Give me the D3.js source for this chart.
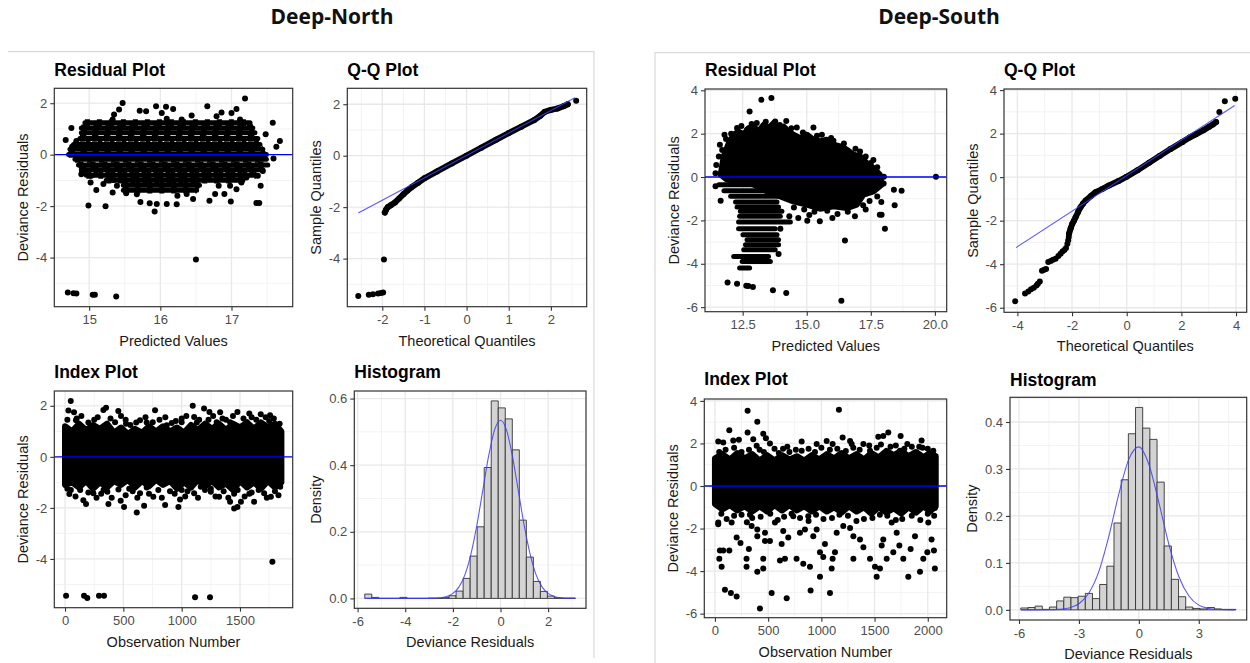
<!DOCTYPE html>
<html>
<head>
<meta charset="utf-8">
<script src="https://cdn.jsdelivr.net/npm/d3@7"></script>
<style>
  body { margin: 0; background: #fff; }
  svg { display: block; }
</style>
</head>
<body>
<svg id="chart" width="1250" height="663"></svg>
<script>
// ---------- données ----------

// Deep-North : residual plot (lignes de points [y, x0, x1] + points isolés [x, y])
const nResRows = [
  [1.24, 14.94, 17.26], [1.04, 14.89, 17.30], [0.85, 14.89, 17.33], [0.63, 14.87, 17.37],
  [0.40, 14.78, 17.40], [0.21, 14.73, 17.44], [0.01, 14.71, 17.49], [-0.18, 14.80, 17.49],
  [-0.40, 14.85, 17.51], [-0.59, 14.89, 17.44], [-0.80, 14.96, 17.35], [-0.99, 15.24, 17.16],
  [-1.19, 15.48, 16.55], [-1.38, 15.48, 16.51]
];
const nResPts = [
  [15.47, 2.01], [15.42, 1.76], [15.35, 1.56], [15.33, 1.37], [15.71, 1.71], [15.80, 1.69],
  [15.94, 1.88], [16.08, 1.86], [16.18, 1.78], [16.02, 1.62], [16.09, 1.40], [16.30, 1.37],
  [16.44, 1.52], [16.66, 1.88], [16.79, 1.49], [16.86, 1.64], [17.00, 1.62], [17.07, 1.78],
  [17.19, 2.18], [17.12, 1.37], [17.26, 1.11], [17.35, 0.59], [17.48, 0.79], [17.58, 1.24],
  [17.68, 0.53], [17.63, 0.31], [17.59, -0.15], [17.44, -0.63], [17.37, -0.82], [17.41, -1.21],
  [17.35, -1.88], [17.39, -1.88], [14.67, 0.57], [14.75, 1.04], [14.82, 0.53], [14.76, 0.31],
  [14.90, -0.69], [14.89, -0.76], [15.03, -0.82], [15.02, -1.08], [15.10, -1.37], [14.99, -1.98],
  [15.23, -2.01], [15.33, -1.47], [15.20, -1.14], [15.52, -1.50], [15.67, -1.54], [15.72, -1.84],
  [15.85, -1.89], [15.95, -1.92], [15.92, -2.21], [16.09, -1.92], [16.23, -1.93], [16.24, -1.60],
  [16.37, -1.53], [16.46, -1.72], [16.69, -1.79], [16.77, -1.53], [16.90, -1.53], [16.99, -1.82],
  [17.07, -1.34], [16.98, -1.21], [16.82, -1.21], [17.14, -1.08], [17.21, -0.89], [15.39, -1.21],
  [15.34, -0.98], [16.50, -4.08], [14.70, -5.36], [14.78, -5.39], [14.82, -5.40], [15.05, -5.45],
  [15.08, -5.45], [15.38, -5.51]
];

// Deep-North : Q-Q plot
const nQQBody = [
  [-1.94, -2.21], [-1.91, -2.10], [-1.87, -2.00], [-1.80, -1.93], [-1.70, -1.82], [-1.60, -1.66],
  [-1.50, -1.50], [-1.40, -1.35], [-1.30, -1.22], [-1.15, -1.05], [-1.00, -0.88], [-0.70, -0.61],
  [-0.35, -0.30], [0.00, 0.00], [0.35, 0.31], [0.70, 0.62], [1.00, 0.88], [1.30, 1.13],
  [1.60, 1.38], [1.75, 1.55], [1.85, 1.70], [2.00, 1.78], [2.15, 1.83], [2.30, 1.92], [2.40, 2.00]
];
const nQQTail = [
  [-2.57, -5.45], [-2.32, -5.41], [-2.22, -5.39], [-2.10, -5.36], [-2.03, -5.34], [-1.98, -5.32],
  [-1.96, -4.04], [2.60, 2.14]
];
const nQQLine = [[-2.57, -2.23], [2.57, 2.25]];

// Deep-North : index plot (zone dense au bord irrégulier + points isolés)
const nIdxCoreTop = [
  [0, 1.2], [60, 1.0], [120, 1.3], [180, 1.05], [240, 1.25], [300, 1.1], [360, 1.3], [420, 0.95],
  [480, 1.15], [540, 0.9], [600, 1.1], [660, 0.95], [720, 1.2], [780, 1.0], [840, 1.2], [900, 1.0],
  [960, 1.15], [1020, 0.95], [1080, 1.25], [1140, 1.05], [1200, 1.3], [1260, 1.1], [1320, 1.3],
  [1380, 1.05], [1440, 1.3], [1500, 1.15], [1560, 1.35], [1620, 1.1], [1680, 1.35], [1740, 1.15],
  [1800, 1.3], [1855, 1.0]
];
const nIdxCoreBottom = [
  [1855, -1.0], [1800, -1.2], [1740, -0.95], [1680, -1.25], [1620, -1.0], [1560, -1.2], [1500, -0.95],
  [1440, -1.3], [1380, -1.05], [1320, -1.2], [1260, -0.95], [1200, -1.15], [1140, -0.9], [1080, -1.2],
  [1020, -1.0], [960, -1.25], [900, -0.95], [840, -1.1], [780, -0.9], [720, -1.15], [660, -0.95],
  [600, -1.2], [540, -0.9], [480, -1.1], [420, -0.95], [360, -1.2], [300, -1.0], [240, -1.25],
  [180, -0.95], [120, -1.2], [60, -1.0], [0, -1.1]
];
const nIdxPts = [
  [49, 2.19], [29, 1.82], [77, 1.75], [94, 1.43], [329, 1.84], [352, 1.92], [429, 1.36], [457, 1.80],
  [523, 1.30], [643, 1.43], [772, 1.83], [752, 1.36], [872, 1.24], [915, 1.33], [1000, 1.36],
  [1095, 2.00], [1107, 1.56], [1192, 1.89], [1238, 1.76], [1300, 1.36], [1415, 1.36], [1478, 1.76],
  [1558, 1.36], [1678, 1.67], [1758, 1.63], [1815, 1.11], [1700, 1.24],
  [100, 1.5], [250, 1.45], [520, 1.45], [700, 1.35], [1000, 1.5], [1150, 1.45], [1350, 1.5],
  [1600, 1.55], [1750, 1.4],
  [20, 1.45], [140, 1.6], [200, 1.35], [280, 1.55], [390, 1.5], [480, 1.6], [560, 1.25], [610, 1.35],
  [690, 1.55], [810, 1.45], [860, 1.55], [950, 1.4], [1040, 1.6], [1130, 1.35], [1230, 1.45],
  [1270, 1.6], [1330, 1.75], [1380, 1.45], [1440, 1.6], [1530, 1.5], [1580, 1.7], [1640, 1.45],
  [1720, 1.55], [1790, 1.5], [1840, 1.3],
  [37, -1.46], [157, -1.70], [180, -1.85], [243, -1.43], [363, -1.37], [372, -1.85], [458, -1.28],
  [477, -1.72], [506, -1.96], [643, -1.43], [678, -1.92], [615, -2.18], [757, -1.56], [858, -1.89],
  [986, -1.67], [972, -1.96], [1000, -1.30], [1107, -1.43], [1164, -1.17], [1250, -1.37],
  [1321, -1.56], [1415, -1.76], [1450, -2.02], [1478, -1.96], [1508, -1.76], [1621, -1.76],
  [1707, -1.43], [1765, -1.56], [1845, -1.17],
  [50, -1.3], [200, -1.4], [330, -1.3], [550, -1.25], [700, -1.2], [900, -1.35], [1050, -1.35],
  [1250, -1.25], [1450, -1.45], [1600, -1.4], [1800, -1.35],
  [20, -1.25], [90, -1.55], [130, -1.3], [270, -1.6], [310, -1.45], [400, -1.6], [520, -1.5],
  [580, -1.35], [620, -1.6], [720, -1.45], [800, -1.3], [830, -1.6], [940, -1.45], [1030, -1.55],
  [1080, -1.2], [1140, -1.6], [1200, -1.3], [1290, -1.55], [1360, -1.35], [1400, -1.6], [1480, -1.3],
  [1540, -1.55], [1580, -1.45], [1660, -1.3], [1730, -1.6], [1830, -1.5],
  [9, -5.44], [163, -5.44], [191, -5.53], [291, -5.44], [334, -5.44], [1115, -5.50], [1243, -5.50],
  [1778, -4.11]
];

// Deep-North : histogramme (30 classes) + courbe normale
const nHistStart = -5.7;
const nHistWidth = 0.295;
const nHistDensity = [
  0.013, 0.003, 0, 0, 0, 0.003, 0, 0, 0, 0.001, 0.001, 0.003, 0.008, 0.022, 0.060,
  0.127, 0.215, 0.393, 0.593, 0.572, 0.539, 0.446, 0.235, 0.124, 0.051, 0.021, 0.007, 0.002, 0.001, 0.001
];
const nCurve = [
  [-5.7, 0], [-3, 0], [-2.5, 0.002], [-2.25, 0.006], [-2, 0.015], [-1.75, 0.034], [-1.5, 0.07],
  [-1.25, 0.131], [-1, 0.217], [-0.75, 0.322], [-0.5, 0.427], [-0.25, 0.506], [0, 0.535],
  [0.25, 0.506], [0.5, 0.427], [0.75, 0.322], [1, 0.217], [1.25, 0.131], [1.5, 0.07],
  [1.75, 0.034], [2, 0.015], [2.25, 0.006], [2.5, 0.002], [3.1, 0]
];

// Deep-South : residual plot (zone dense, bandes, points isolés)
const sResCore = [
  [11.76, 0.95], [11.96, 1.57], [12.15, 1.95], [12.34, 2.1], [12.54, 1.95], [12.73, 2.26],
  [12.93, 2.33], [13.12, 2.1], [13.32, 2.41], [13.51, 2.26], [13.71, 2.49], [13.9, 2.18],
  [14.1, 2.33], [14.29, 2.1], [14.48, 1.95], [14.74, 1.79], [15.0, 1.95], [15.26, 1.72],
  [15.52, 1.64], [15.78, 1.72], [16.04, 1.49], [16.3, 1.41], [16.56, 1.26], [16.82, 1.03],
  [17.08, 0.95], [17.34, 0.64], [17.6, 0.41], [17.85, 0.11], [17.92, -0.35], [17.6, -0.66],
  [17.21, -0.81], [16.95, -1.27], [16.56, -1.43], [16.04, -1.35], [15.52, -1.46], [15.0, -1.27],
  [14.48, -1.12], [13.97, -0.89], [13.45, -0.66], [12.93, -0.35], [12.41, -0.2], [11.89, -0.12],
  [11.64, 0.11]
];
const sResRows = [
  [-0.35, 11.57, 14.10], [-0.63, 11.77, 13.97], [-0.89, 12.03, 13.84], [-1.15, 12.22, 13.84],
  [-1.38, 12.28, 13.90], [-1.58, 12.41, 14.03], [-1.81, 12.38, 13.97], [-2.07, 12.34, 14.36],
  [-2.38, 12.34, 13.77], [-2.66, 12.51, 13.84], [-2.89, 12.67, 13.90], [-3.12, 12.61, 13.90],
  [-3.35, 12.54, 13.77], [-3.66, 12.15, 13.51], [-3.89, 12.48, 13.58], [-4.20, 12.38, 12.77]
];
const sResPts = [
  [13.23, 3.56], [13.62, 3.64], [12.77, 3.02], [11.79, 1.95], [11.61, 1.49], [11.57, 0.95],
  [12.28, 2.26], [12.67, 2.18], [13.05, 2.49], [13.77, 2.56], [14.20, 2.59], [14.61, 2.28],
  [15.26, 2.28], [15.59, 1.95], [14.98, 1.95], [16.04, 1.67], [16.46, 1.33], [17.08, 1.18],
  [17.60, 0.79], [18.01, 0.01], [20.04, 0.01], [18.40, -0.59], [18.70, -0.63], [18.43, -1.30],
  [17.91, -1.15], [17.85, -1.74], [17.92, -1.74], [18.05, -2.38], [16.88, -1.81], [16.49, -2.93],
  [16.35, -5.70], [16.00, -1.89], [15.51, -2.04], [15.02, -2.01], [14.67, -1.89], [14.32, -1.81],
  [13.97, -2.38], [13.90, -3.55], [11.91, -4.86], [12.28, -4.92], [12.64, -5.01], [12.72, -5.03],
  [12.90, -5.07], [13.68, -5.22], [14.20, -5.35], [11.64, -1.09], [11.44, 0.18], [11.47, 0.56],
  [11.44, -0.43], [17.30, -1.50], [17.20, -1.30], [16.60, -1.60], [16.20, -1.70], [15.80, -1.55],
  [15.30, -1.60], [14.90, -1.50], [14.50, -1.40], [17.40, -0.50], [17.70, 0.30], [15.10, -1.75],
  [11.70, 1.25], [11.85, 1.75], [12.05, 2.0], [12.45, 2.35], [12.85, 2.45], [13.4, 2.55],
  [13.95, 2.4], [14.4, 2.25], [14.85, 2.05], [15.4, 1.9], [15.95, 1.8], [16.45, 1.55], [16.9, 1.3],
  [17.3, 0.95], [17.5, 0.65], [17.75, 0.45], [18.0, -0.3], [17.75, -0.9], [17.45, -1.1]
];

// Deep-South : Q-Q plot
const sQQBody = [
  [-2.11, -2.60], [-2.05, -2.35], [-1.99, -2.14], [-1.93, -2.00], [-1.87, -1.84], [-1.78, -1.60],
  [-1.69, -1.38], [-1.60, -1.22], [-1.50, -1.07], [-1.30, -0.86], [-1.14, -0.69], [-0.90, -0.55],
  [-0.65, -0.38], [-0.30, -0.18], [0.00, 0.02], [0.40, 0.32], [0.82, 0.66], [1.20, 0.97],
  [1.60, 1.29], [2.04, 1.62], [2.30, 1.82], [2.53, 1.97], [2.80, 2.15], [3.02, 2.32],
  [3.15, 2.42], [3.27, 2.53]
];
const sQQTail = [
  [-4.08, -5.70], [-3.72, -5.35], [-3.60, -5.25], [-3.50, -5.15], [-3.40, -5.08], [-3.30, -4.98],
  [-3.25, -4.90], [-3.18, -4.80], [-3.10, -4.30], [-3.02, -4.25], [-2.95, -4.22], [-2.87, -3.90],
  [-2.78, -3.85], [-2.70, -3.80], [-2.60, -3.75], [-2.50, -3.62], [-2.42, -3.52], [-2.35, -3.42],
  [-2.28, -3.35], [-2.22, -3.25], [-2.17, -3.06], [-2.14, -2.90], [-2.12, -2.75],
  [3.39, 2.99], [3.59, 3.49], [3.97, 3.60]
];
const sQQLine = [[-4.05, -3.24], [3.95, 3.29]];

// Deep-South : index plot
const sIdxCoreTop = [
  [0, 1.3], [70, 1.5], [140, 1.25], [210, 1.55], [280, 1.3], [350, 1.5], [420, 1.2], [490, 1.45],
  [560, 1.2], [630, 1.45], [700, 1.25], [770, 1.4], [840, 1.2], [910, 1.45], [980, 1.25], [1050, 1.5],
  [1120, 1.3], [1190, 1.55], [1260, 1.3], [1330, 1.5], [1400, 1.25], [1470, 1.55], [1540, 1.35],
  [1610, 1.65], [1680, 1.45], [1750, 1.65], [1820, 1.4], [1890, 1.6], [1960, 1.35], [2020, 1.55],
  [2075, 1.4]
];
const sIdxCoreBottom = [
  [2075, -0.95], [2020, -1.2], [1960, -0.95], [1890, -1.25], [1820, -1.0], [1750, -1.3], [1680, -1.05],
  [1610, -1.25], [1540, -1.0], [1470, -1.3], [1400, -1.0], [1330, -1.2], [1260, -0.95], [1190, -1.25],
  [1120, -1.0], [1050, -1.2], [980, -0.95], [910, -1.2], [840, -0.95], [770, -1.15], [700, -0.9],
  [630, -1.15], [560, -0.9], [490, -1.2], [420, -0.95], [350, -1.2], [280, -0.95], [210, -1.15],
  [140, -0.9], [70, -1.1], [0, -0.85]
];
const sIdxPts = [
  [307, 3.54], [1165, 3.58], [398, 3.02], [135, 2.62], [307, 2.51], [454, 2.46], [479, 2.25],
  [31, 2.09], [78, 2.05], [172, 2.14], [225, 2.18], [360, 2.20], [392, 1.89], [517, 2.00],
  [680, 1.85], [815, 2.09], [956, 1.97], [1050, 2.12], [1106, 1.97], [1200, 2.28], [1270, 2.12],
  [1285, 1.97], [1395, 1.97], [1535, 2.31], [1582, 2.35], [1629, 2.51], [1745, 2.35], [1808, 1.97],
  [1942, 2.14], [1951, 1.80], [2052, 1.66], [1895, 1.51], [1739, 1.66], [1457, 1.66], [815, 1.66],
  [100, 1.7], [250, 1.6], [420, 1.7], [560, 1.75], [700, 1.6], [880, 1.75], [1000, 1.8], [1150, 1.75],
  [1300, 1.8], [1450, 1.9], [1700, 1.9], [1850, 1.85], [2000, 1.75],
  [40, 1.6], [180, 1.8], [320, 1.7], [460, 1.6], [600, 1.55], [640, 1.75], [760, 1.7], [940, 1.6],
  [1080, 1.7], [1230, 1.65], [1360, 1.7], [1520, 1.8], [1560, 1.95], [1650, 1.85], [1780, 1.75],
  [1920, 1.85], [2040, 1.45],
  [60, -1.3], [180, -1.4], [350, -1.5], [520, -1.3], [650, -1.45], [800, -1.5], [950, -1.35],
  [1100, -1.5], [1250, -1.4], [1400, -1.55], [1550, -1.35], [1700, -1.6], [1850, -1.4], [2000, -1.3],
  [110, -1.55], [250, -1.35], [300, -1.7], [430, -1.45], [590, -1.6], [720, -1.3], [880, -1.65],
  [1020, -1.55], [1170, -1.35], [1330, -1.65], [1480, -1.5], [1620, -1.4], [1760, -1.55],
  [1930, -1.6], [2060, -1.4],
  [31, -1.72], [31, -1.80], [47, -3.03], [41, -3.42], [63, -3.80], [78, -3.03], [135, -3.03],
  [94, -4.88], [150, -5.03], [204, -5.19], [204, -2.42], [157, -1.72], [240, -2.68], [297, -3.42],
  [297, -3.80], [319, -2.96], [345, -1.88], [329, -1.35], [423, -5.76], [398, -4.03], [454, -3.42],
  [454, -3.88], [470, -2.20], [470, -2.58], [398, -2.05], [398, -2.36], [533, -5.03], [517, -2.58],
  [564, -1.72], [627, -2.73], [642, -2.11], [658, -3.42], [611, -3.50], [674, -5.27], [689, -2.42],
  [736, -1.42], [767, -3.42], [799, -2.20], [830, -3.65], [846, -2.05], [877, -1.42], [893, -3.80],
  [899, -4.91], [924, -2.36], [956, -2.05], [987, -3.11], [987, -4.26], [1018, -3.34], [1034, -2.73],
  [1081, -5.03], [1097, -3.88], [1106, -3.42], [1128, -3.11], [1144, -2.20], [1206, -1.88],
  [1270, -1.97], [1301, -3.42], [1301, -2.36], [1363, -2.52], [1395, -2.88], [1457, -3.42],
  [1504, -3.80], [1520, -4.26], [1551, -3.88], [1567, -2.80], [1582, -2.52], [1614, -3.42],
  [1661, -1.72], [1676, -3.11], [1708, -2.20], [1733, -2.80], [1770, -3.42], [1817, -4.26],
  [1839, -2.96], [1880, -2.36], [1927, -4.03], [1958, -3.42], [1996, -3.11], [2036, -2.52],
  [2067, -3.88], [2058, -3.03], [2005, -1.72], [2067, -1.03]
];

// Deep-South : histogramme + courbe normale
const sHistStart = -5.91;
const sHistWidth = 0.359;
const sHistDensity = [
  0.004, 0.005, 0.008, 0.001, 0.006, 0.019, 0.027, 0.026, 0.029, 0.035, 0.024, 0.054, 0.093, 0.185,
  0.277, 0.375, 0.431, 0.387, 0.363, 0.272, 0.136, 0.065, 0.028, 0.006, 0.003, 0.002, 0.005, 0.002, 0.001, 0.001
];
const sCurve = [
  [-5.9, 0], [-4.5, 0.0002], [-4, 0.001], [-3.5, 0.004], [-3, 0.013], [-2.5, 0.036], [-2, 0.082],
  [-1.5, 0.157], [-1, 0.247], [-0.5, 0.321], [0, 0.347], [0.5, 0.31], [1, 0.229], [1.5, 0.14],
  [2, 0.071], [2.5, 0.03], [3, 0.01], [3.5, 0.003], [4, 0.0007], [4.8, 0]
];

// graduations
const nResXTicks = [15, 16, 17], nResYTicks = [-4, -2, 0, 2];
const nQQXTicks = [-2, -1, 0, 1, 2], nQQYTicks = [-4, -2, 0, 2];
const nIdxXTicks = [0, 500, 1000, 1500], nIdxYTicks = [-4, -2, 0, 2];
const nHistXTicks = [-6, -4, -2, 0, 2], nHistYTicks = [0, 0.2, 0.4, 0.6];
const sResXTicks = [12.5, 15, 17.5, 20], sResYTicks = [-6, -4, -2, 0, 2, 4];
const sQQXTicks = [-4, -2, 0, 2, 4], sQQYTicks = [-6, -4, -2, 0, 2, 4];
const sIdxXTicks = [0, 500, 1000, 1500, 2000], sIdxYTicks = [-6, -4, -2, 0, 2, 4];
const sHistXTicks = [-6, -3, 0, 3], sHistYTicks = [0, 0.1, 0.2, 0.3, 0.4];

// ---------- dessin ----------
const FONT = "'Liberation Sans', Arial, sans-serif";
const R = 3; // rayon des points
const svg = d3.select("#chart");
const defs = svg.append("defs");

const fInt = d => String(d);
const f1 = d => d.toFixed(1);

// cadres gris autour de chaque groupe
svg.append("path").attr("d", "M8,51.7H594V658").attr("fill", "none").attr("stroke", "#d9d9d9").attr("stroke-width", 1.2);
svg.append("path").attr("d", "M1250,52.7H655V663").attr("fill", "none").attr("stroke", "#d9d9d9").attr("stroke-width", 1.2);

svg.append("text").attr("x", 332).attr("y", 24).attr("text-anchor", "middle")
  .attr("font-family", "'Open Sans', sans-serif").attr("font-weight", "bold").attr("font-size", 21)
  .attr("fill", "#111").text("Deep-North");
svg.append("text").attr("x", 939).attr("y", 24).attr("text-anchor", "middle")
  .attr("font-family", "'Open Sans', sans-serif").attr("font-weight", "bold").attr("font-size", 21)
  .attr("fill", "#111").text("Deep-South");

function minorTicks(ticks, dom) {
  const step = ticks[1] - ticks[0];
  const out = [];
  [ticks[0] - step].concat(ticks).forEach(t => {
    const m = t + step / 2;
    if (m > dom[0] && m < dom[1]) out.push(m);
  });
  return out;
}

function makePanel(p, id) {
  const x = d3.scaleLinear().domain(p.xDomain).range([p.left, p.right]);
  const y = d3.scaleLinear().domain(p.yDomain).range([p.bottom, p.top]);
  const g = svg.append("g");
  // grille mineure puis majeure
  g.selectAll(".vmin").data(minorTicks(p.xTicks, p.xDomain)).join("line")
    .attr("x1", d => x(d)).attr("x2", d => x(d)).attr("y1", p.top).attr("y2", p.bottom)
    .attr("stroke", "#f3f3f3").attr("stroke-width", 1);
  g.selectAll(".hmin").data(minorTicks(p.yTicks, p.yDomain)).join("line")
    .attr("y1", d => y(d)).attr("y2", d => y(d)).attr("x1", p.left).attr("x2", p.right)
    .attr("stroke", "#f3f3f3").attr("stroke-width", 1);
  g.selectAll(".vmaj").data(p.xTicks).join("line")
    .attr("x1", d => x(d)).attr("x2", d => x(d)).attr("y1", p.top).attr("y2", p.bottom)
    .attr("stroke", "#e8e8e8").attr("stroke-width", 1.3);
  g.selectAll(".hmaj").data(p.yTicks).join("line")
    .attr("y1", d => y(d)).attr("y2", d => y(d)).attr("x1", p.left).attr("x2", p.right)
    .attr("stroke", "#e8e8e8").attr("stroke-width", 1.3);
  defs.append("clipPath").attr("id", "clip-" + id).append("rect")
    .attr("x", p.left).attr("y", p.top).attr("width", p.right - p.left).attr("height", p.bottom - p.top);
  const plot = g.append("g").attr("clip-path", `url(#clip-${id})`);
  return { p, x, y, g, plot };
}

function finishPanel(P) {
  const { p, x, y, g } = P;
  g.append("rect").attr("x", p.left).attr("y", p.top)
    .attr("width", p.right - p.left).attr("height", p.bottom - p.top)
    .attr("fill", "none").attr("stroke", "#333").attr("stroke-width", 1.2);
  const ax = g.append("g").attr("transform", `translate(0,${p.bottom})`)
    .call(d3.axisBottom(x).tickValues(p.xTicks).tickFormat(p.xFmt).tickSize(4).tickPadding(4.5));
  const ay = g.append("g").attr("transform", `translate(${p.left},0)`)
    .call(d3.axisLeft(y).tickValues(p.yTicks).tickFormat(p.yFmt).tickSize(4).tickPadding(3));
  [ax, ay].forEach(a => {
    a.select(".domain").remove();
    a.selectAll("line").attr("stroke", "#333").attr("stroke-width", 1.1);
    a.selectAll("text").attr("fill", "#4d4d4d").attr("font-size", 13).attr("font-family", FONT);
  });
  const yw = ay.node().getBBox().width;
  g.append("text").attr("x", p.left).attr("y", p.titleY)
    .attr("font-family", FONT).attr("font-weight", "bold").attr("font-size", 17.5).attr("fill", "#000")
    .text(p.title);
  g.append("text").attr("x", (p.left + p.right) / 2).attr("y", p.bottom + 34).attr("dy", "0.35em")
    .attr("text-anchor", "middle").attr("font-family", FONT).attr("font-size", 14.5).attr("fill", "#1a1a1a")
    .text(p.xTitle);
  g.append("text")
    .attr("transform", `translate(${p.left - yw - 13},${(p.top + p.bottom) / 2}) rotate(-90)`)
    .attr("dy", "0.35em").attr("text-anchor", "middle").attr("font-family", FONT).attr("font-size", 14.5)
    .attr("fill", "#1a1a1a").text(p.yTitle);
}

function drawPoints(P, pts) {
  P.plot.append("g").selectAll("circle").data(pts).join("circle")
    .attr("cx", d => P.x(d[0])).attr("cy", d => P.y(d[1])).attr("r", R).attr("fill", "#000");
}
function drawRows(P, rows, dashed) {
  const g = P.plot.append("g");
  g.selectAll(".row").data(rows).join("line")
    .attr("x1", d => P.x(d[1])).attr("x2", d => P.x(d[2]))
    .attr("y1", d => P.y(d[0])).attr("y2", d => P.y(d[0]))
    .attr("stroke", "#000").attr("stroke-width", 5).attr("stroke-linecap", "round");
  if (dashed) {
    // recouvrement partiel : les interstices blancs deviennent des tirets
    g.selectAll(".over").data(rows).join("line")
      .attr("x1", d => P.x(d[1])).attr("x2", d => P.x(d[2]))
      .attr("y1", d => P.y(d[0])).attr("y2", d => P.y(d[0]))
      .attr("stroke", "#000").attr("stroke-width", 6.8).attr("stroke-dasharray", "5,7");
  }
}
function drawCore(P, poly) {
  const line = d3.line().x(d => P.x(d[0])).y(d => P.y(d[1]));
  P.plot.append("path").attr("d", line(poly) + "Z")
    .attr("fill", "#000").attr("stroke", "#000").attr("stroke-width", 2 * R).attr("stroke-linejoin", "round");
}
function drawZero(P) {
  P.plot.append("line").attr("x1", P.p.left).attr("x2", P.p.right)
    .attr("y1", P.y(0)).attr("y2", P.y(0)).attr("stroke", "#0000ff").attr("stroke-width", 1.4);
}
function drawQQ(P, body, tail, ref) {
  const line = d3.line().x(d => P.x(d[0])).y(d => P.y(d[1]));
  P.plot.append("path").attr("d", line(body)).attr("fill", "none")
    .attr("stroke", "#000").attr("stroke-width", 2 * R).attr("stroke-linecap", "round").attr("stroke-linejoin", "round");
  drawPoints(P, body.concat(tail));
  P.plot.append("path").attr("d", line(ref)).attr("fill", "none")
    .attr("stroke", "#3c3cff").attr("stroke-opacity", 0.85).attr("stroke-width", 1.1);
}
function drawHist(P, start, width, dens, curve) {
  const bins = dens.map((d, i) => ({ x0: start + i * width, x1: start + (i + 1) * width, d: d }));
  P.plot.append("g").selectAll("path").data(bins).join("path")
    .attr("d", b => `M${P.x(b.x0)},${P.y(0)}V${P.y(b.d)}H${P.x(b.x1)}V${P.y(0)}Z`)
    .attr("fill", "#d3d3d3").attr("stroke", "#333").attr("stroke-width", 0.9);
  const line = d3.line().x(d => P.x(d[0])).y(d => P.y(d[1])).curve(d3.curveMonotoneX);
  P.plot.append("path").attr("d", line(curve)).attr("fill", "none")
    .attr("stroke", "#3c3cff").attr("stroke-opacity", 0.85).attr("stroke-width", 1.1);
}

// ----- Deep-North -----
const nRes = makePanel({ left: 54.3, right: 292.7, top: 88.3, bottom: 306.7, xDomain: [14.51, 17.86], yDomain: [-5.91, 2.58],
  xTicks: nResXTicks, yTicks: nResYTicks, xFmt: fInt, yFmt: fInt, title: "Residual Plot", titleY: 76,
  xTitle: "Predicted Values", yTitle: "Deviance Residuals" }, "nres");
drawRows(nRes, nResRows, true); drawPoints(nRes, nResPts); drawZero(nRes); finishPanel(nRes);

const nQQ = makePanel({ left: 347.3, right: 586.7, top: 88.3, bottom: 306.7, xDomain: [-2.83, 2.85], yDomain: [-5.87, 2.62],
  xTicks: nQQXTicks, yTicks: nQQYTicks, xFmt: fInt, yFmt: fInt, title: "Q-Q Plot", titleY: 76,
  xTitle: "Theoretical Quantiles", yTitle: "Sample Quantiles" }, "nqq");
drawQQ(nQQ, nQQBody, nQQTail, nQQLine); finishPanel(nQQ);

const nIdx = makePanel({ left: 54.3, right: 292.7, top: 391, bottom: 607.7, xDomain: [-92, 1952], yDomain: [-5.91, 2.58],
  xTicks: nIdxXTicks, yTicks: nIdxYTicks, xFmt: fInt, yFmt: fInt, title: "Index Plot", titleY: 378,
  xTitle: "Observation Number", yTitle: "Deviance Residuals" }, "nidx");
drawCore(nIdx, nIdxCoreTop.concat(nIdxCoreBottom)); drawPoints(nIdx, nIdxPts); drawZero(nIdx); finishPanel(nIdx);

const nHist = makePanel({ left: 354.3, right: 586, top: 391, bottom: 608.3, xDomain: [-6.14, 3.59], yDomain: [-0.0297, 0.6227],
  xTicks: nHistXTicks, yTicks: nHistYTicks, xFmt: fInt, yFmt: f1, title: "Histogram", titleY: 378,
  xTitle: "Deviance Residuals", yTitle: "Density" }, "nhist");
drawHist(nHist, nHistStart, nHistWidth, nHistDensity, nCurve); finishPanel(nHist);

// ----- Deep-South -----
const sRes = makePanel({ left: 705, right: 946.7, top: 89, bottom: 311.7, xDomain: [11.03, 20.46], yDomain: [-6.21, 4.06],
  xTicks: sResXTicks, yTicks: sResYTicks, xFmt: f1, yFmt: fInt, title: "Residual Plot", titleY: 76,
  xTitle: "Predicted Values", yTitle: "Deviance Residuals" }, "sres");
drawCore(sRes, sResCore); drawRows(sRes, sResRows, false); drawPoints(sRes, sResPts); drawZero(sRes); finishPanel(sRes);

const sQQ = makePanel({ left: 1004, right: 1246.7, top: 89, bottom: 312.3, xDomain: [-4.49, 4.39], yDomain: [-6.21, 4.05],
  xTicks: sQQXTicks, yTicks: sQQYTicks, xFmt: fInt, yFmt: fInt, title: "Q-Q Plot", titleY: 76,
  xTitle: "Theoretical Quantiles", yTitle: "Sample Quantiles" }, "sqq");
drawQQ(sQQ, sQQBody, sQQTail, sQQLine); finishPanel(sQQ);

const sIdx = makePanel({ left: 704.3, right: 946.7, top: 399, bottom: 617.7, xDomain: [-100, 2178], yDomain: [-6.19, 4.09],
  xTicks: sIdxXTicks, yTicks: sIdxYTicks, xFmt: fInt, yFmt: fInt, title: "Index Plot", titleY: 385,
  xTitle: "Observation Number", yTitle: "Deviance Residuals" }, "sidx");
drawCore(sIdx, sIdxCoreTop.concat(sIdxCoreBottom)); drawPoints(sIdx, sIdxPts); drawZero(sIdx); finishPanel(sIdx);

const sHist = makePanel({ left: 1010, right: 1246.7, top: 397.3, bottom: 620, xDomain: [-6.45, 5.4], yDomain: [-0.0216, 0.4526],
  xTicks: sHistXTicks, yTicks: sHistYTicks, xFmt: fInt, yFmt: f1, title: "Histogram", titleY: 386,
  xTitle: "Deviance Residuals", yTitle: "Density" }, "shist");
drawHist(sHist, sHistStart, sHistWidth, sHistDensity, sCurve); finishPanel(sHist);
</script>
</body>
</html>
